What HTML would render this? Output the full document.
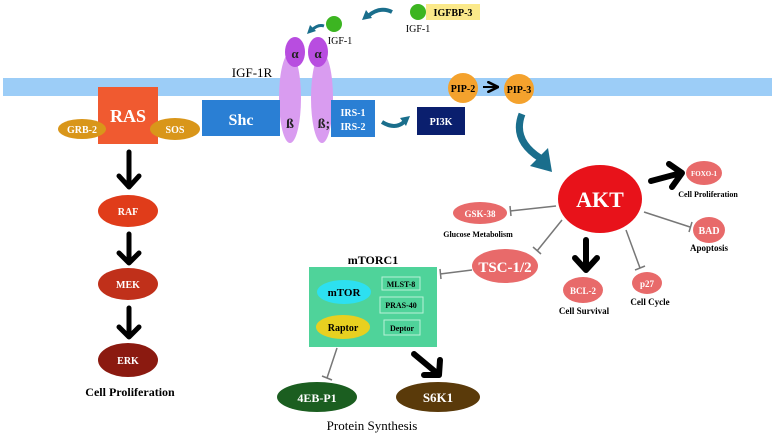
<!DOCTYPE html>
<html><head><meta charset="utf-8"><style>
html,body{margin:0;padding:0;background:#fff;width:772px;height:438px;overflow:hidden}
text{font-family:"Liberation Serif",serif;font-weight:bold}
</style></head><body>
<svg width="772" height="438" viewBox="0 0 772 438" xmlns="http://www.w3.org/2000/svg">
<defs>
<marker id="tb" viewBox="0 0 10 10" refX="9" refY="5" markerWidth="6" markerHeight="6" orient="auto"><path d="M1,1 L9,5 L1,9" fill="none" stroke="#000" stroke-width="2.2" stroke-linecap="round"/></marker>
</defs>
<!-- membrane -->
<rect x="3" y="78" width="769" height="18" fill="#9ccdf7"/>
<!-- IGF top -->
<circle cx="418" cy="12" r="8" fill="#3cb521"/>
<rect x="426" y="4" width="54" height="16" fill="#fbe98a"/>
<text x="453" y="16" font-size="10" text-anchor="middle" fill="#000">IGFBP-3</text>
<text x="418" y="32" font-size="10" text-anchor="middle" font-weight="normal" style="font-weight:normal">IGF-1</text>
<path d="M392,12 Q380,6 368,16" fill="none" stroke="#1a6e8c" stroke-width="4"/>
<path d="M362,20 L366,10 L372,18 Z" fill="#1a6e8c"/>
<circle cx="334" cy="24" r="8" fill="#3cb521"/>
<text x="340" y="44" font-size="10" text-anchor="middle" style="font-weight:normal">IGF-1</text>
<path d="M324,26 Q318,24 312,30" fill="none" stroke="#1a6e8c" stroke-width="3"/>
<path d="M307,34 L310,25 L316,31 Z" fill="#1a6e8c"/>
<text x="252" y="77" font-size="13" text-anchor="middle" style="font-weight:normal">IGF-1R</text>
<!-- receptor -->
<ellipse cx="290" cy="98" rx="11" ry="45" fill="#d99cf0"/>
<ellipse cx="322" cy="98" rx="11" ry="45" fill="#d99cf0"/>
<ellipse cx="295" cy="52" rx="10" ry="15" fill="#b84de0"/>
<ellipse cx="318" cy="52" rx="10" ry="15" fill="#b84de0"/>
<text x="295" y="58" font-size="13" text-anchor="middle" fill="#222">α</text>
<text x="318" y="58" font-size="13" text-anchor="middle" fill="#222">α</text>
<text x="290" y="128" font-size="14" text-anchor="middle" fill="#222">ß</text>
<text x="324" y="128" font-size="14" text-anchor="middle" fill="#222">ß;</text>
<!-- RAS -->
<rect x="98" y="87" width="60" height="57" fill="#f05a30"/>
<text x="128" y="122" font-size="18" text-anchor="middle" fill="#fff">RAS</text>
<ellipse cx="82" cy="129" rx="24" ry="10" fill="#d9961a"/>
<text x="82" y="133" font-size="10" text-anchor="middle" fill="#fff">GRB-2</text>
<ellipse cx="175" cy="129" rx="25" ry="11" fill="#d9961a"/>
<text x="175" y="133" font-size="10" text-anchor="middle" fill="#fff">SOS</text>
<rect x="202" y="100" width="78" height="36" fill="#2a7fd4"/>
<text x="241" y="125" font-size="16" text-anchor="middle" fill="#fff">Shc</text>
<rect x="331" y="100" width="44" height="37" fill="#2a7fd4"/>
<text x="353" y="116" font-size="10" text-anchor="middle" fill="#fff">IRS-1</text>
<text x="353" y="130" font-size="10" text-anchor="middle" fill="#fff">IRS-2</text>
<path d="M382,122 Q395,130 404,122" fill="none" stroke="#1a6e8c" stroke-width="4"/>
<path d="M410,116 L400,118 L406,126 Z" fill="#1a6e8c"/>
<rect x="417" y="107" width="48" height="28" fill="#0a1f6e"/>
<text x="441" y="125" font-size="10" text-anchor="middle" fill="#fff">PI3K</text>
<!-- PIP -->
<circle cx="463" cy="88" r="15" fill="#f4a22d"/>
<text x="463" y="92" font-size="10" text-anchor="middle">PIP-2</text>
<line x1="483" y1="87" x2="498" y2="87" stroke="#000" stroke-width="2" marker-end="url(#tb)"/>
<circle cx="519" cy="89" r="15" fill="#f4a22d"/>
<text x="519" y="93" font-size="10" text-anchor="middle">PIP-3</text>
<path d="M522,114 Q512,140 540,158" fill="none" stroke="#1a6e8c" stroke-width="7"/>
<path d="M530,166 L548,148 L552,172 Z" fill="#1a6e8c"/>
<!-- left chain -->
<g stroke="#000" stroke-width="5" fill="none" stroke-linecap="round" stroke-linejoin="round">
<path d="M129,152 V186 M119,176 L129,187 L139,176"/>
<path d="M129,234 V262 M119,253 L129,263 L139,253"/>
<path d="M129,308 V336 M119,327 L129,337 L139,327"/>
</g>
<ellipse cx="128" cy="211" rx="30" ry="16" fill="#e03c1a"/>
<text x="128" y="215" font-size="10" text-anchor="middle" fill="#fff">RAF</text>
<ellipse cx="128" cy="284" rx="30" ry="16" fill="#c0301a"/>
<text x="128" y="288" font-size="10" text-anchor="middle" fill="#fff">MEK</text>
<ellipse cx="128" cy="360" rx="30" ry="17" fill="#8b1a10"/>
<text x="128" y="364" font-size="10" text-anchor="middle" fill="#fff">ERK</text>
<text x="130" y="396" font-size="12" text-anchor="middle">Cell Proliferation</text>
<!-- AKT -->
<ellipse cx="600" cy="199" rx="42" ry="34" fill="#e8121a"/>
<text x="600" y="207" font-size="22" text-anchor="middle" fill="#fff">AKT</text>
<g stroke="#777" stroke-width="1.5">
<line x1="556" y1="206" x2="510" y2="211"/><line x1="510" y1="206" x2="511" y2="216"/>
<line x1="562" y1="220" x2="537" y2="251"/><line x1="533" y1="247" x2="541" y2="254"/>
<line x1="644" y1="212" x2="690" y2="227"/><line x1="692" y1="222" x2="689" y2="232"/>
<line x1="626" y1="230" x2="640" y2="268"/><line x1="635" y1="270" x2="645" y2="266"/>
<line x1="472" y1="270" x2="440" y2="274"/><line x1="440" y1="269" x2="441" y2="279"/>
<line x1="337" y1="348" x2="327" y2="378"/><line x1="322" y1="376" x2="332" y2="380"/>
</g>
<g stroke="#000" stroke-width="6" fill="none" stroke-linecap="round" stroke-linejoin="round">
<path d="M651,181 L681,173 M669,164 L682,173 L672,187"/>
<path d="M586,240 V268 M575,258 L586,270 L597,258"/>
<path d="M414,354 L438,374 M440,360 L439,375 L424,375"/>
</g>
<ellipse cx="704" cy="173" rx="18" ry="12" fill="#e86a6a"/>
<text x="704" y="176" font-size="7" text-anchor="middle" fill="#fff">FOXO-1</text>
<text x="708" y="197" font-size="8" text-anchor="middle">Cell Proliferation</text>
<ellipse cx="709" cy="230" rx="16" ry="13" fill="#e86a6a"/>
<text x="709" y="234" font-size="10" text-anchor="middle" fill="#fff">BAD</text>
<text x="709" y="251" font-size="9" text-anchor="middle">Apoptosis</text>
<ellipse cx="480" cy="213" rx="27" ry="11" fill="#e86a6a"/>
<text x="480" y="217" font-size="9" text-anchor="middle" fill="#fff">GSK-38</text>
<text x="478" y="237" font-size="8" text-anchor="middle">Glucose Metabolism</text>
<ellipse cx="505" cy="266" rx="33" ry="17" fill="#e86a6a"/>
<text x="505" y="272" font-size="15" text-anchor="middle" fill="#fff">TSC-1/2</text>
<ellipse cx="583" cy="290" rx="20" ry="13" fill="#e86a6a"/>
<text x="583" y="294" font-size="9" text-anchor="middle" fill="#fff">BCL-2</text>
<text x="584" y="314" font-size="9" text-anchor="middle">Cell Survival</text>
<ellipse cx="647" cy="283" rx="15" ry="11" fill="#e86a6a"/>
<text x="647" y="287" font-size="9" text-anchor="middle" fill="#fff">p27</text>
<text x="650" y="305" font-size="9" text-anchor="middle">Cell Cycle</text>
<!-- mTORC1 -->
<text x="373" y="264" font-size="12" text-anchor="middle">mTORC1</text>
<rect x="309" y="267" width="128" height="80" fill="#4fd39a"/>
<ellipse cx="344" cy="292" rx="27" ry="12" fill="#2de0f0"/>
<text x="344" y="296" font-size="11" text-anchor="middle">mTOR</text>
<ellipse cx="343" cy="327" rx="27" ry="12" fill="#e8d020"/>
<text x="343" y="331" font-size="10" text-anchor="middle">Raptor</text>
<g fill="none" stroke="#b8f0d8" stroke-width="1">
<rect x="382" y="277" width="38" height="13"/><rect x="380" y="297" width="43" height="16"/><rect x="384" y="320" width="36" height="15"/>
</g>
<text x="401" y="287" font-size="8" text-anchor="middle">MLST-8</text>
<text x="401" y="308" font-size="8" text-anchor="middle">PRAS-40</text>
<text x="402" y="331" font-size="8" text-anchor="middle">Deptor</text>
<ellipse cx="317" cy="397" rx="40" ry="15" fill="#1b5e20"/>
<text x="317" y="402" font-size="12" text-anchor="middle" fill="#fff">4EB-P1</text>
<ellipse cx="438" cy="397" rx="42" ry="15" fill="#5a3a0a"/>
<text x="438" y="402" font-size="13" text-anchor="middle" fill="#fff">S6K1</text>
<text x="372" y="430" font-size="13" text-anchor="middle" style="font-weight:normal">Protein Synthesis</text>
</svg>
</body></html>
